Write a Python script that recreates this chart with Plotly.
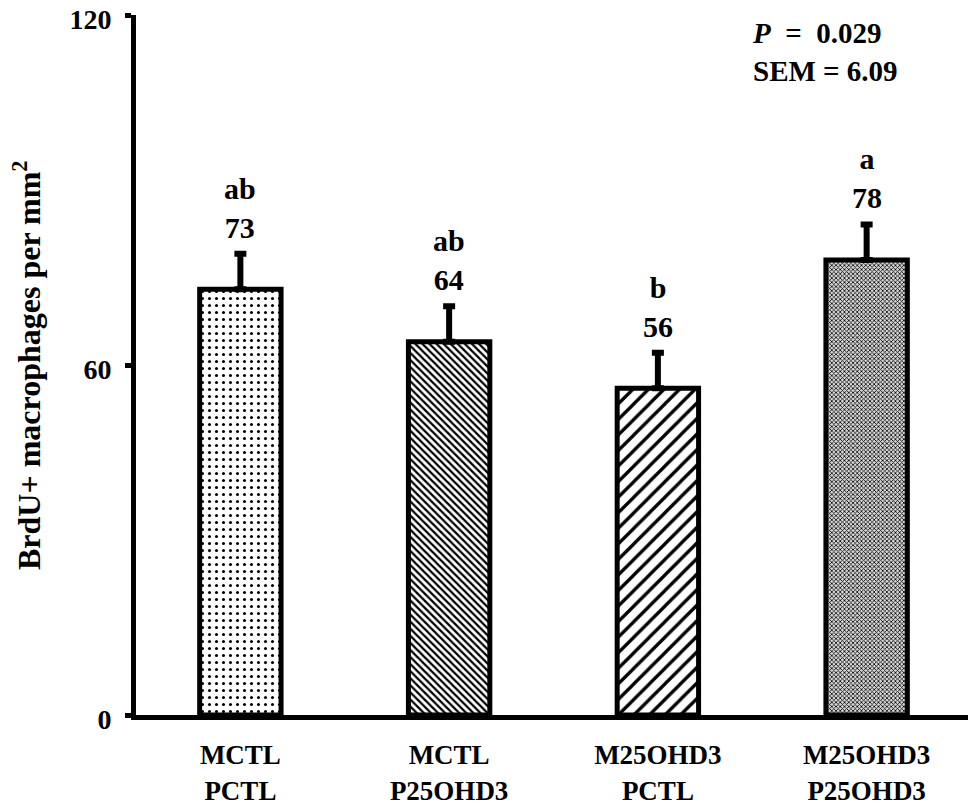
import plotly.graph_objects as go

categories = ["MCTL<br>PCTL", "MCTL<br>P25OHD3", "M25OHD3<br>PCTL", "M25OHD3<br>P25OHD3"]
values = [73, 64, 56, 78]
sem = [6.09, 6.09, 6.09, 6.09]
letters = ["ab", "ab", "b", "a"]
y_ticks = [0, 60, 120]

FONT = "Liberation Serif"
L, R, T, B = 128, 13, 7, 99
PW = 976 - L - R
OFF = 8  # page offset of the figure in the screenshot

pattern_shapes = [".", "\\", "/", "x"]
pattern_sizes = [7, 5, 11, 3]
pattern_solidity = [0.15, 0.45, 0.3, 0.45]
pattern_bg = ["white", "white", "white", "#d6d6d6"]

fig = go.Figure()
fig.add_trace(go.Bar(
    x=categories, y=values, width=0.39,
    marker=dict(
        color="white",
        line=dict(color="black", width=5),
        pattern=dict(shape=pattern_shapes, size=pattern_sizes, solidity=pattern_solidity,
                     fgcolor="black", bgcolor=pattern_bg, fillmode="replace"),
    ),
    error_y=dict(type="data", array=sem, arrayminus=[0]*4, symmetric=False,
                 color="black", thickness=6, width=6),
    showlegend=False,
))

for c, v, s, l in zip(categories, values, sem, letters):
    fig.add_annotation(x=c, y=v + s, text=f"{l}<br>{v}", showarrow=False,
                       yanchor="bottom", yshift=8,
                       font=dict(family=FONT, size=30, color="black", weight="bold"))

fig.add_annotation(xref="paper", yref="paper", x=(750 - OFF - L) / PW, y=1.0, xanchor="left", yanchor="top",
                   align="left", showarrow=False,
                   text="<i>P</i>&nbsp; =&nbsp; 0.029<br>SEM = 6.09",
                   font=dict(family=FONT, size=29, color="black", weight="bold"))

fig.add_annotation(xref="paper", yref="paper", x=(27 - OFF - L) / PW, y=0.5, xanchor="center", yanchor="middle",
                   textangle=-90, showarrow=False,
                   text="BrdU+ macrophages per mm<sup>2</sup>",
                   font=dict(family=FONT, size=32, color="black", weight="bold"))

fig.update_layout(
    width=976, height=806,
    margin=dict(l=L, r=R, t=T, b=B),
    plot_bgcolor="white", paper_bgcolor="white",
    font=dict(family=FONT, color="black", weight="bold"),
    bargap=0.61,
)
fig.update_xaxes(showline=True, linecolor="black", linewidth=5, ticks="", automargin=False,
                 ticklabelstandoff=12,
                 tickfont=dict(family=FONT, size=27, color="black", weight="bold"),
                 range=[-0.5, 3.5])
fig.update_yaxes(range=[0, 120], tickvals=y_ticks, showline=True, linecolor="black", linewidth=5,
                 ticks="outside", ticklen=6, tickwidth=5, tickcolor="black", showgrid=False,
                 zeroline=False, automargin=False, ticklabeloverflow="allow",
                 ticklabelstandoff=8, ticklabelshift=4,
                 tickfont=dict(family=FONT, size=28, color="black", weight="bold"))

fig.write_html("out.html")
